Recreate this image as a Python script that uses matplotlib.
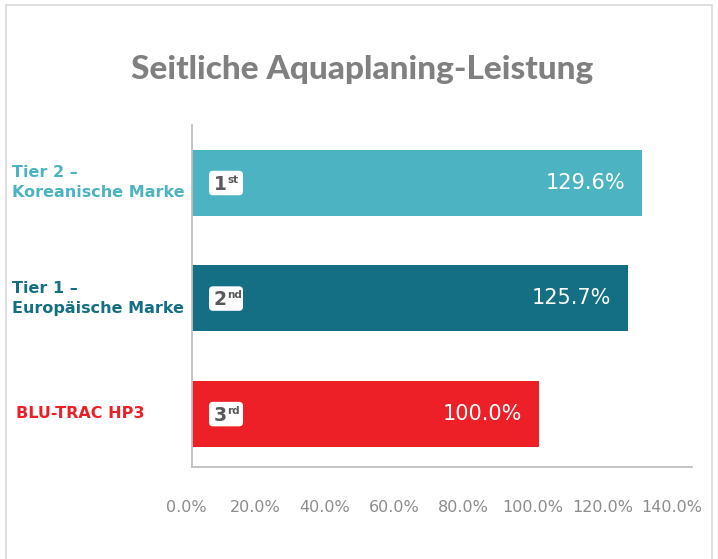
import matplotlib.pyplot as plt
from matplotlib.patches import FancyBboxPatch, Rectangle
from matplotlib.transforms import ScaledTranslation, blended_transform_factory, offset_copy

brands = ["Tier 2 –\nKoreanische Marke", "Tier 1 –\nEuropäische Marke", "BLU-TRAC HP3"]
scores = [129.6, 125.7, 100.0]
ranks = ["1", "2", "3"]
rank_suffix = ["st", "nd", "rd"]
bar_colors = ["#4bb3c1", "#156f84", "#ed1f27"]
x_ticks = [0, 20, 40, 60, 80, 100, 120, 140]
tick_labels = [f"{t:.1f}%" for t in x_ticks]

fig = plt.figure(figsize=(7.18, 5.59), dpi=100)
ax = fig.add_axes([192 / 718, 1 - 467 / 559, 500 / 718, 342 / 559])

pos = list(range(len(scores)))
ax.barh(pos, scores, height=0.57, color=bar_colors)
ax.set_xlim(0, 144)
ax.set_ylim(2.46, -0.5)

for side in ["top", "right"]:
    ax.spines[side].set_visible(False)
for side in ["left", "bottom"]:
    ax.spines[side].set_color("#bfbfbf")
    ax.spines[side].set_linewidth(1.3)

ax.set_yticks([])
ax.set_xticks(x_ticks)
ax.set_xticklabels(tick_labels, color="#8c8c8c", fontsize=11.5)
ax.tick_params(axis="x", length=0, pad=24)
shift = ScaledTranslation(-6 / 100, 0, fig.dpi_scale_trans)
for lab in ax.get_xticklabels():
    lab.set_transform(lab.get_transform() + shift)

# category labels on the left
lab_tr = blended_transform_factory(fig.transFigure, ax.transData)
for i, (name, col) in enumerate(zip(brands, bar_colors)):
    x0 = 12 / 718 if "\n" in name else 16 / 718
    fig.text(x0, i, name, transform=lab_tr, color=col, fontsize=11.5,
             fontweight="bold", ha="left", va="center", linespacing=1.45)

# rank badges and value labels
for i, v in enumerate(scores):
    tr = fig.dpi_scale_trans + ScaledTranslation(0, i, ax.transData)
    box = FancyBboxPatch((0.17, -0.125), 0.34, 0.245,
                         boxstyle="round,pad=0,rounding_size=0.04",
                         facecolor="white", edgecolor="none", transform=tr)
    ax.add_patch(box)
    ax.text(0.215, -0.015, ranks[i], transform=tr, color="#595959",
            fontsize=13.5, fontweight="bold", ha="left", va="center")
    ax.text(0.35, 0.03, rank_suffix[i], transform=tr, color="#595959",
            fontsize=7.5, fontweight="bold", ha="left", va="center")
    ax.text(v, i, f"{v:.1f}%", transform=offset_copy(ax.transData, fig, x=-0.17, units="inches"),
            color="white", fontsize=15, ha="right", va="center")

fig.text(362 / 718, 1 - 70 / 559, "Seitliche Aquaplaning-Leistung",
         color="#808080", fontsize=24, fontweight="black", ha="center", va="center",
         family="Lato")

fig.patches.append(Rectangle((6 / 718, -0.05), 706 / 718, 1.05 - 5 / 559,
                             transform=fig.transFigure, fill=False,
                             edgecolor="#d9d9d9", linewidth=1.2))

fig.savefig("out.png", dpi=100)
